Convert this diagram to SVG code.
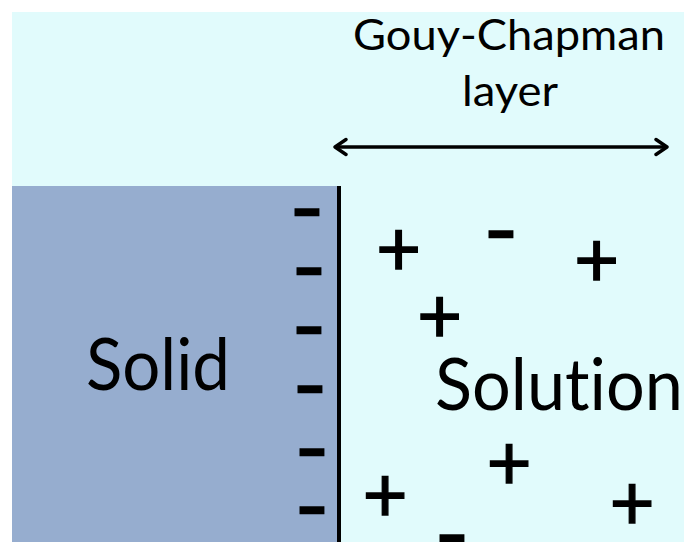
<svg xmlns="http://www.w3.org/2000/svg" width="684" height="542" viewBox="0 0 684 542">
<defs>
<style>
.t{font-family:Lato,"Open Sans","Liberation Sans",sans-serif;fill:#000;font-variant-ligatures:none;font-feature-settings:"liga" 0,"clig" 0}
.big{font-size:72px}
.hd{font-size:42px}
.pl{font-size:78px;text-anchor:middle;stroke:#000;stroke-width:1.3}
.mi{font-size:98px;text-anchor:middle;stroke:#000;stroke-width:0.6}
</style>
<marker id="ah" viewBox="0 0 16 20" refX="14" refY="10" markerWidth="16" markerHeight="20" markerUnits="userSpaceOnUse" orient="auto-start-reverse">
<path d="M3 2.5 L14 10 L3 17.5" fill="none" stroke="#000" stroke-width="3.4" stroke-linecap="round" stroke-linejoin="round"/>
</marker>
</defs>
<rect width="684" height="542" fill="#fff"/>
<rect x="12" y="12" width="672" height="530" fill="#E1FBFC"/>
<g id="solid">
<rect x="12" y="186" width="326" height="356" fill="#96ADCF"/>
<text class="t big" x="86" y="390" textLength="144" lengthAdjust="spacingAndGlyphs">Solid</text>
</g>
<g id="interface">
<rect x="337" y="186" width="4" height="356" fill="#000"/>
</g>
<g id="solution">
<text class="t big" x="435" y="410" textLength="248" lengthAdjust="spacingAndGlyphs">Solution</text>
</g>
<g id="label">
<text class="t hd" x="353" y="50" textLength="312" lengthAdjust="spacingAndGlyphs">Gouy-Chapman</text>
<text class="t hd" x="462" y="106" textLength="96" lengthAdjust="spacingAndGlyphs">layer</text>
</g>
<g id="connectors">
<line x1="335" y1="147" x2="667" y2="147" stroke="#000" stroke-width="3.4" marker-start="url(#ah)" marker-end="url(#ah)"/>
</g>
<g id="charges">
<text class="t mi" x="307" y="242">-</text>
<text class="t mi" x="309" y="301">-</text>
<text class="t mi" x="309" y="360">-</text>
<text class="t mi" x="310" y="419">-</text>
<text class="t mi" x="312" y="482">-</text>
<text class="t mi" x="312" y="540">-</text>
<text class="t mi" x="501" y="264">-</text>
<text class="t mi" x="452" y="568">-</text>
<text class="t pl" x="398.5" y="275.5">+</text>
<text class="t pl" x="596.5" y="286.5">+</text>
<text class="t pl" x="439.5" y="342.5">+</text>
<text class="t pl" x="509" y="490">+</text>
<text class="t pl" x="385" y="522">+</text>
<text class="t pl" x="632" y="530">+</text>
</g>
</svg>
